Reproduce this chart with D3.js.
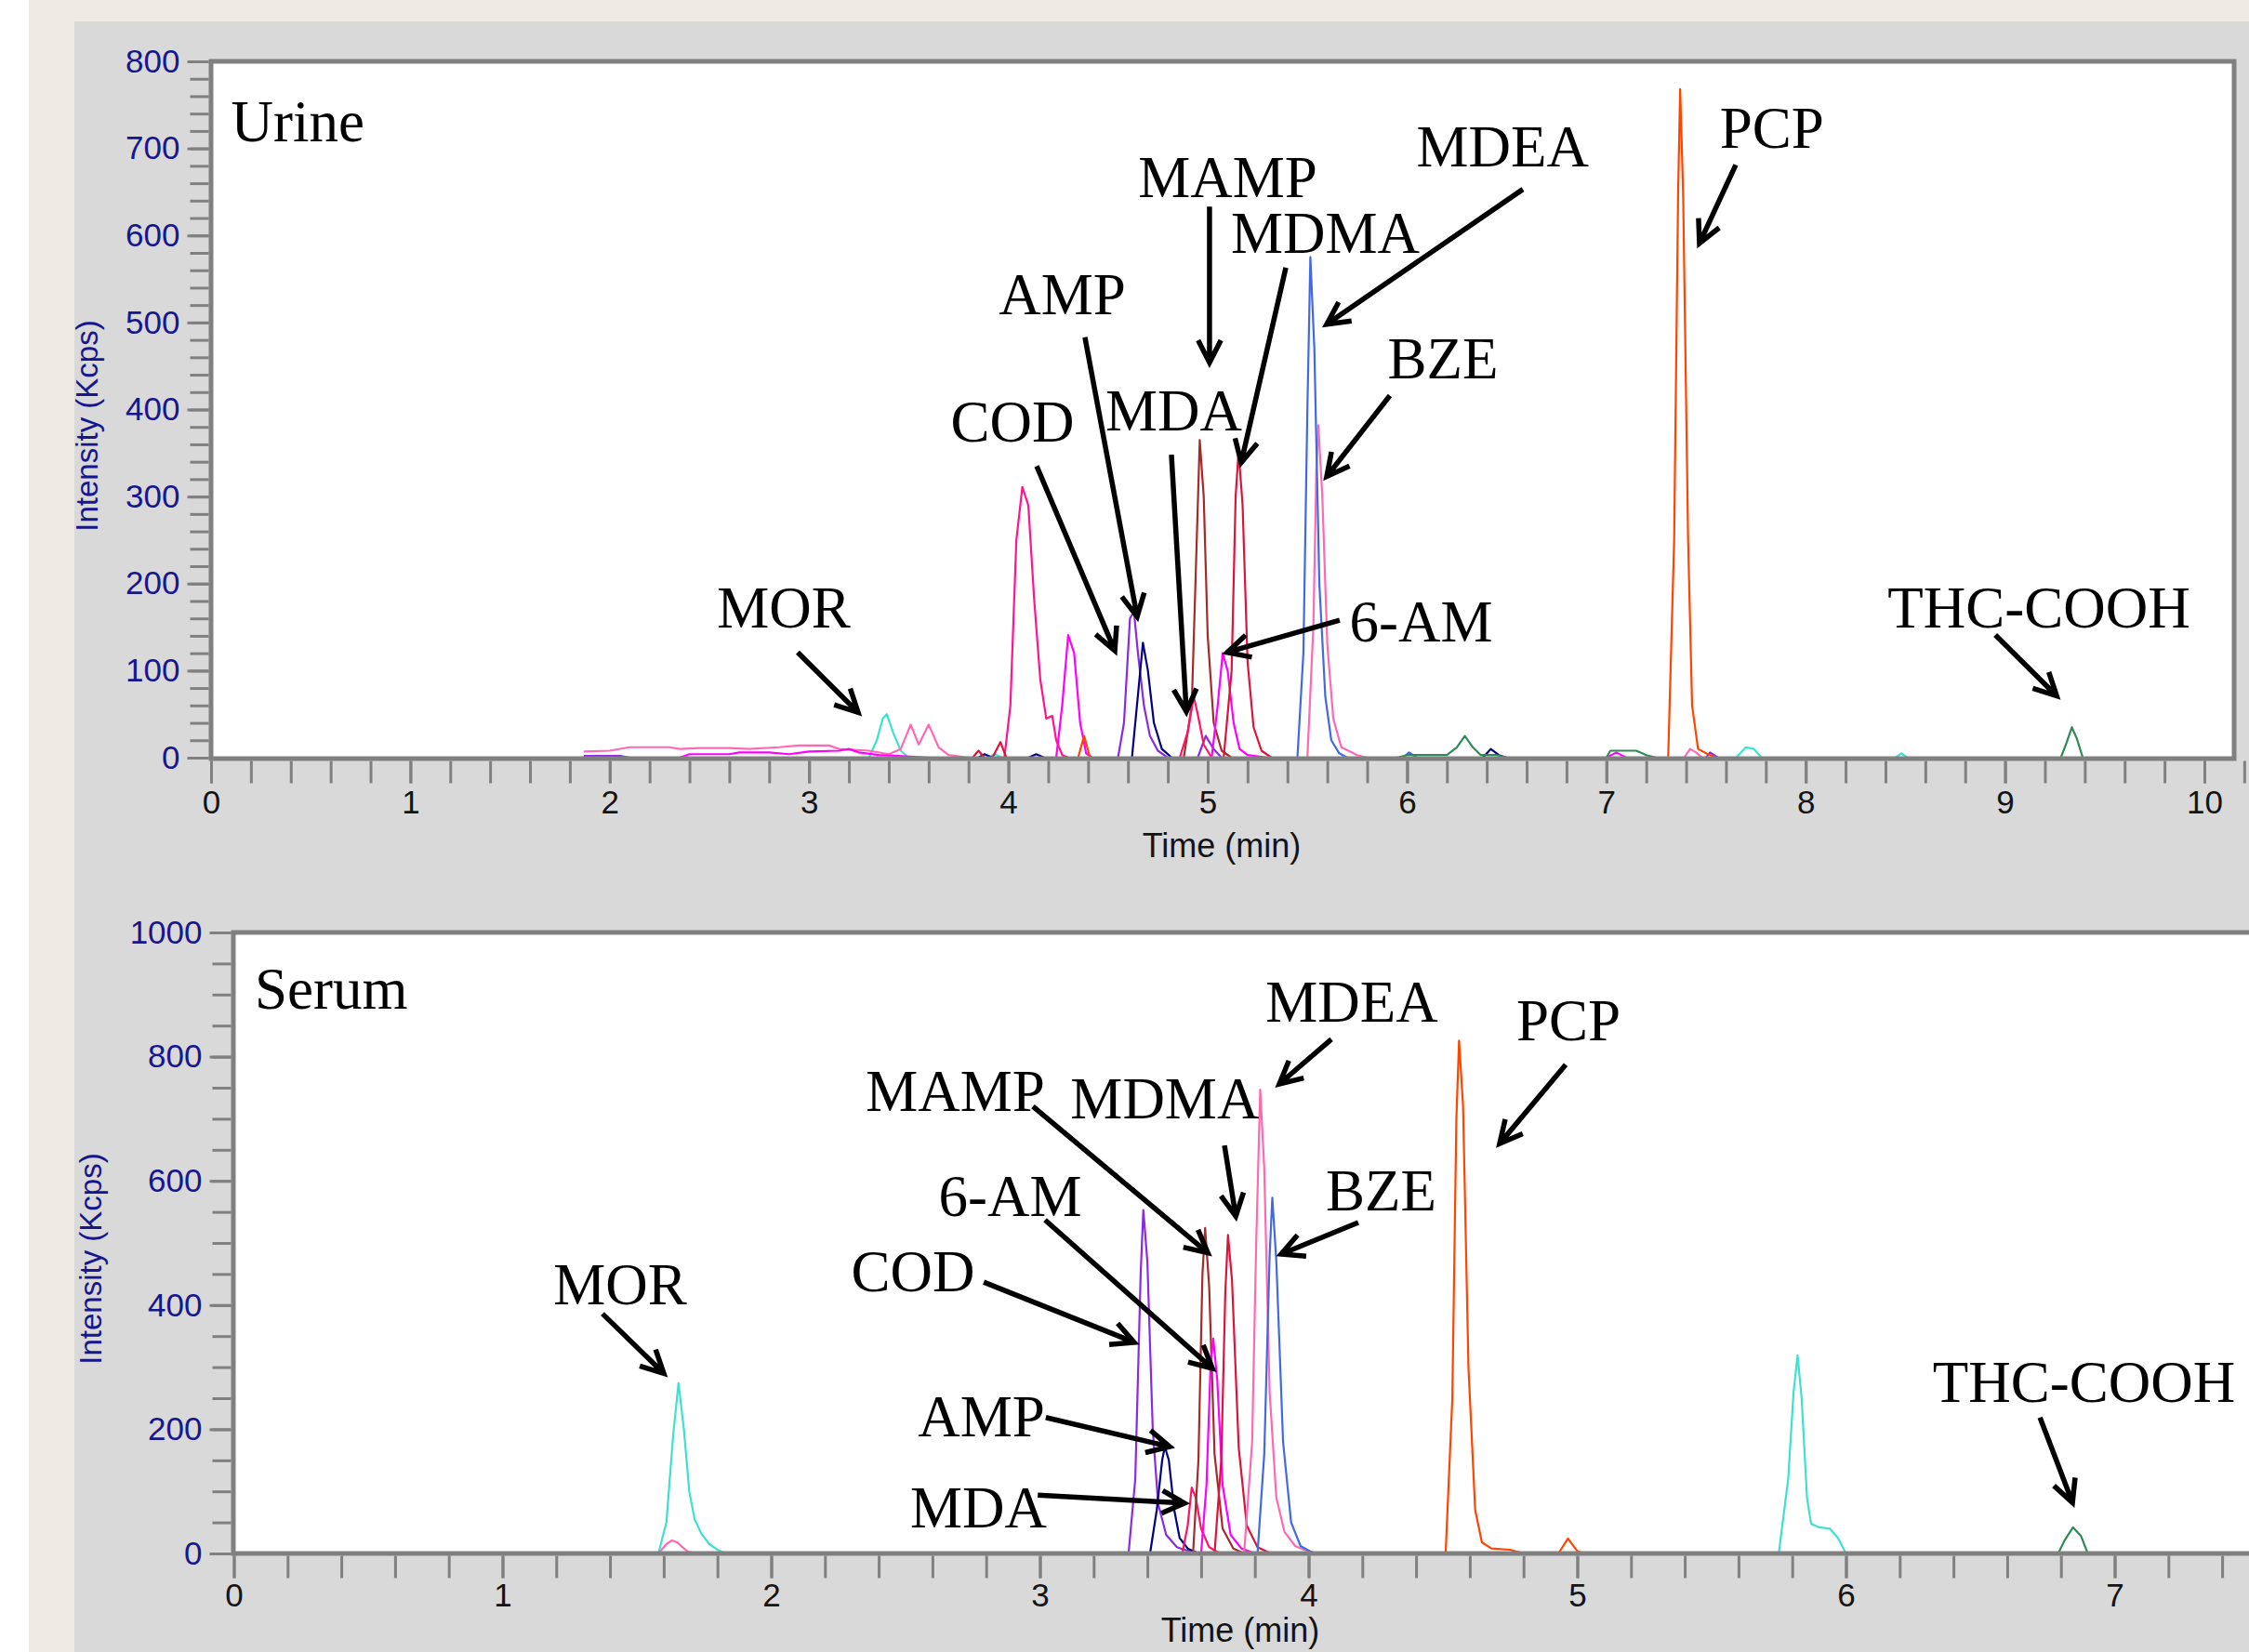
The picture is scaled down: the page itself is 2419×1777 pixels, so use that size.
<!DOCTYPE html>
<html>
<head>
<meta charset="utf-8">
<script src="https://cdn.jsdelivr.net/npm/d3@7"></script>
<style>
  body { margin: 0; background: #fff; }
</style>
</head>
<body>
<div id="chart"></div>
<script>
const width = 2419;
const height = 1777;

// ---- data: [time (min), intensity (Kcps)] ----
// Urine
const urineMOR = [[1.87,2],[2.05,2],[2.1,0],[3.30,0],[3.34,20],[3.37,45],[3.39,50],[3.42,30],[3.46,8],[3.5,0],[3.9,0],[3.93,4],[3.97,0],[7.65,0],[7.70,12],[7.74,10],[7.78,0],[8.45,0],[8.48,5],[8.51,0]];
const urinePink = [[1.87,7],[2.0,8],[2.1,12],[2.3,12],[2.35,10],[2.45,11],[2.6,11],[2.7,10],[2.85,12],[2.95,14],[3.1,14],[3.15,10],[3.3,8],[3.4,4],[3.46,10],[3.51,38],[3.55,15],[3.6,38],[3.65,12],[3.7,3],[3.8,0],[5.50,0],[5.53,150],[5.545,330],[5.555,382],[5.575,300],[5.60,130],[5.63,45],[5.67,12],[5.75,3],[5.8,0],[7.39,0],[7.42,10],[7.45,6],[7.48,0]];
const urineBig = [[3.98,0],[4.01,60],[4.04,250],[4.07,311],[4.10,290],[4.13,180],[4.16,90],[4.19,45],[4.22,48],[4.24,20],[4.27,3],[4.3,0]];
const urineMag = [[1.87,0],[2.35,0],[2.4,4],[2.6,4],[2.65,6],[2.8,6],[2.9,4],[3.0,7],[3.15,8],[3.2,10],[3.25,6],[3.35,3],[3.45,2],[3.6,0],[4.24,0],[4.27,60],[4.30,141],[4.33,120],[4.36,40],[4.39,5],[4.42,0],[7.0,0],[7.05,6],[7.1,0]];
const urineCOD = [[1.87,2],[2.05,2],[2.1,0],[4.55,0],[4.58,40],[4.61,160],[4.63,168],[4.65,120],[4.68,60],[4.71,25],[4.75,8],[4.8,0],[4.95,0],[4.99,25],[5.03,10],[5.07,0],[7.5,0],[7.52,6],[7.56,0]];
const urineAMP = [[3.85,0],[3.88,4],[3.92,0],[4.1,0],[4.14,4],[4.18,0],[4.62,0],[4.645,60],[4.675,132],[4.70,100],[4.73,40],[4.77,10],[4.82,0],[6.38,0],[6.42,10],[6.46,3],[6.5,0]];
const urineMAMP = [[4.88,0],[4.92,60],[4.945,250],[4.96,365],[4.98,300],[5.0,140],[5.03,40],[5.07,8],[5.12,0]];
const urineMDA = [[4.86,0],[4.90,30],[4.93,70],[4.95,50],[4.98,15],[5.02,0]];
const urine6AM = [[5.02,0],[5.05,60],[5.075,120],[5.10,100],[5.13,40],[5.16,10],[5.2,3],[5.3,0]];
const urineMDMA = [[3.82,0],[3.85,8],[3.88,0],[3.92,0],[3.96,18],[3.99,0],[5.08,0],[5.12,100],[5.14,300],[5.155,352],[5.175,290],[5.2,110],[5.23,35],[5.27,8],[5.32,0]];
const urineBlue = [[5.45,0],[5.48,120],[5.50,400],[5.515,575],[5.535,470],[5.56,200],[5.59,70],[5.62,20],[5.66,5],[5.7,0],[5.98,0],[6.01,6],[6.05,0]];
const urinePCP = [[4.35,0],[4.38,25],[4.41,0],[7.31,0],[7.34,250],[7.36,650],[7.37,768],[7.385,650],[7.41,250],[7.43,60],[7.46,10],[7.5,5],[7.55,0]];
const urineTHC = [[5.95,0],[6.0,3],[6.2,3],[6.25,12],[6.29,25],[6.33,12],[6.37,3],[6.45,3],[6.5,0],[7.0,0],[7.02,8],[7.15,8],[7.2,3],[7.25,0],[9.28,0],[9.31,18],[9.335,35],[9.36,22],[9.39,0]];

// Serum
const serumMOR = [[1.58,0],[1.61,50],[1.635,190],[1.655,274],[1.675,200],[1.695,100],[1.715,55],[1.74,32],[1.77,15],[1.80,6],[1.83,0],[5.75,0],[5.785,120],[5.805,260],[5.82,319],[5.835,250],[5.855,90],[5.87,48],[5.9,42],[5.94,40],[5.97,25],[6.0,0]];
const serumPink = [[1.58,0],[1.61,15],[1.63,21],[1.65,18],[1.67,10],[1.69,3],[1.72,0],[3.76,0],[3.79,180],[3.805,500],[3.82,747],[3.835,620],[3.855,260],[3.88,90],[3.91,35],[3.95,12],[4.0,3],[4.05,0]];
const serumCOD = [[3.33,0],[3.355,120],[3.375,450],[3.385,553],[3.40,470],[3.42,200],[3.44,80],[3.47,30],[3.51,10],[3.56,3],[3.6,0]];
const serumAMP = [[3.41,0],[3.435,70],[3.455,150],[3.465,172],[3.48,150],[3.50,70],[3.52,25],[3.55,8],[3.59,0]];
const serumMDA = [[3.53,0],[3.55,45],[3.565,106],[3.58,90],[3.60,40],[3.63,10],[3.67,0]];
const serumMAMP = [[3.57,0],[3.59,150],[3.605,450],[3.615,524],[3.63,430],[3.65,160],[3.68,40],[3.72,8],[3.76,0]];
const serum6AM = [[3.60,0],[3.62,110],[3.635,300],[3.645,346],[3.66,280],[3.68,110],[3.71,30],[3.75,8],[3.8,0]];
const serumMDMA = [[3.65,0],[3.675,150],[3.69,420],[3.70,513],[3.715,440],[3.74,170],[3.77,45],[3.81,10],[3.86,0]];
const serumBZE = [[3.81,0],[3.835,160],[3.855,480],[3.865,573],[3.88,470],[3.905,180],[3.935,50],[3.97,12],[4.02,0]];
const serumPCP = [[4.51,0],[4.535,250],[4.55,700],[4.56,826],[4.575,720],[4.595,300],[4.62,70],[4.645,18],[4.68,8],[4.75,6],[4.8,0],[4.93,0],[4.965,24],[5.0,4],[5.02,0]];
const serumTHC = [[6.79,0],[6.815,22],[6.845,42],[6.875,28],[6.90,0]];

// ticks
const urineYTicks = [0,100,200,300,400,500,600,700,800];
const serumYTicks = [0,200,400,600,800,1000];
const urineXTicks = [0,1,2,3,4,5,6,7,8,9,10];
const serumXTicks = [0,1,2,3,4,5,6,7];

// annotations: label position, arrow start, arrow tip (all in data units)
const urineNotes = [
  { text: 'MOR',      at: [2.873,150], from: [2.943,121], to: [3.246,52] },
  { text: 'COD',      at: [4.02,363],  from: [4.142,335], to: [4.534,123] },
  { text: 'AMP',      at: [4.27,510],  from: [4.384,483], to: [4.646,162] },
  { text: 'MAMP',     at: [5.10,644],  from: [5.009,633], to: [5.009,454] },
  { text: 'MDMA',     at: [5.59,580],  from: [5.392,563], to: [5.168,339] },
  { text: 'MDEA',     at: [6.48,679],  from: [6.581,653], to: [5.597,498] },
  { text: 'PCP',      at: [7.83,701],  from: [7.649,681], to: [7.467,591] },
  { text: 'MDA',      at: [4.83,376],  from: [4.818,348], to: [4.893,53] },
  { text: 'BZE',      at: [6.18,436],  from: [5.914,416], to: [5.597,323] },
  { text: '6-AM',     at: [6.07,134],  from: [5.662,158], to: [5.098,121] },
  { text: 'THC-COOH', at: [9.17,150],  from: [8.951,141], to: [9.259,71] }
];
const serumNotes = [
  { text: 'MOR',      at: [1.438,401], from: [1.372,386], to: [1.60,290] },
  { text: 'MAMP',     at: [2.685,713], from: [2.974,720], to: [3.625,484] },
  { text: 'MDMA',     at: [3.465,701], from: [3.687,657], to: [3.729,543] },
  { text: 'MDEA',     at: [4.161,857], from: [4.085,828], to: [3.891,756] },
  { text: 'PCP',      at: [4.967,826], from: [4.957,787], to: [4.711,660] },
  { text: '6-AM',     at: [2.889,543], from: [3.019,537], to: [3.642,298] },
  { text: 'COD',      at: [2.528,422], from: [2.791,437], to: [3.351,340] },
  { text: 'BZE',      at: [4.27,552],  from: [4.185,533], to: [3.898,482] },
  { text: 'AMP',      at: [2.782,189], from: [3.022,219], to: [3.483,172] },
  { text: 'MDA',      at: [2.772,42],  from: [2.992,94],  to: [3.538,81] },
  { text: 'THC-COOH', at: [6.886,244], from: [6.722,219], to: [6.843,82] }
];

const urineTraces = [
  { data: urineMOR,  color: '#40E0D0' },
  { data: urinePink, color: '#FF69B4' },
  { data: urineMag,  color: '#FF00FF' },
  { data: urineBig,  color: '#FF1493' },
  { data: urineCOD,  color: '#8A2BE2' },
  { data: urineAMP,  color: '#000080' },
  { data: urineMAMP, color: '#A52A2A' },
  { data: urineMDA,  color: '#FF1464' },
  { data: urine6AM,  color: '#FF00FF' },
  { data: urineMDMA, color: '#DC143C' },
  { data: urineBlue, color: '#4169E1' },
  { data: urinePCP,  color: '#FF4500' },
  { data: urineTHC,  color: '#2E8B57' }
];
const serumTraces = [
  { data: serumMOR,  color: '#40E0D0' },
  { data: serumCOD,  color: '#8A2BE2' },
  { data: serumAMP,  color: '#000080' },
  { data: serumMDA,  color: '#FF1464' },
  { data: serumMAMP, color: '#A52A2A' },
  { data: serum6AM,  color: '#FF00FF' },
  { data: serumMDMA, color: '#DC143C' },
  { data: serumPink, color: '#FF69B4' },
  { data: serumBZE,  color: '#4169E1' },
  { data: serumPCP,  color: '#FF4500' },
  { data: serumTHC,  color: '#2E8B57' }
];

const sansFont = '"Liberation Sans", Arial, sans-serif';
const serifFont = '"Liberation Serif", "Times New Roman", serif';

let svg = d3.select('#chart').append('svg')
    .attr('width', width)
    .attr('height', height);

// backgrounds
svg.append('rect').attr('width', width).attr('height', height).attr('fill', '#ffffff');
svg.append('rect').attr('x', 31).attr('width', width - 31).attr('height', height).attr('fill', '#EEEBE4');
svg.append('rect').attr('x', 80).attr('y', 23).attr('width', width - 80).attr('height', height - 23).attr('fill', '#D9D9D9');

function minorTicks(max, step) {
    return d3.range(0, max + step / 2, step);
}

function drawPanel(p) {
    let x = d3.scaleLinear().domain([0, p.xTicks[p.xTicks.length - 1]]).range(p.xRange);
    let y = d3.scaleLinear().domain([0, p.yTicks[p.yTicks.length - 1]]).range(p.yRange);

    let g = svg.append('g');

    // plot area
    g.append('rect')
        .attr('x', p.box[0]).attr('y', p.box[1])
        .attr('width', p.box[2] - p.box[0]).attr('height', p.box[3] - p.box[1])
        .attr('fill', '#ffffff');

    g.append('clipPath').attr('id', p.id + '-clip')
      .append('rect')
        .attr('x', p.box[0]).attr('y', p.box[1])
        .attr('width', p.box[2] - p.box[0]).attr('height', p.box[3] - p.box[1]);

    let line = d3.line()
        .x((d) => { return x(d[0]); })
        .y((d) => { return y(d[1]); });

    g.append('g')
        .attr('clip-path', `url(#${p.id}-clip)`)
        .selectAll('path').data(p.traces)
        .enter().append('path')
            .attr('d', (d) => { return line(d.data); })
            .attr('fill', 'none')
            .attr('stroke', (d) => { return d.color; })
            .attr('stroke-width', 2.2)
            .attr('stroke-linejoin', 'round');

    // frame
    g.append('rect')
        .attr('x', p.box[0]).attr('y', p.box[1])
        .attr('width', p.box[2] - p.box[0]).attr('height', p.box[3] - p.box[1])
        .attr('fill', 'none')
        .attr('stroke', '#808080')
        .attr('stroke-width', 5);

    // y axis
    let yMinor = g.append('g')
        .attr('transform', `translate(${p.box[0] - 2.5}, 0)`)
        .call(d3.axisLeft(y).tickValues(minorTicks(p.yTicks[p.yTicks.length - 1], p.yMinor)).tickSize(20).tickFormat(''));
    let yMajor = g.append('g')
        .attr('transform', `translate(${p.box[0] - 2.5}, 0)`)
        .call(d3.axisLeft(y).tickValues(p.yTicks).tickSize(23).tickPadding(8).tickFormat(d3.format('d')));

    // x axis
    let xAxis = g.append('g')
        .attr('transform', `translate(0, ${p.box[3] + 2.5})`)
        .call(d3.axisBottom(x).tickValues(minorTicks(p.xTicks[p.xTicks.length - 1] + 0.4, 0.2)).tickSize(24).tickFormat(''));
    let xLabels = g.append('g')
        .attr('transform', `translate(0, ${p.box[3] + 2.5})`)
        .call(d3.axisBottom(x).tickValues(p.xTicks).tickSize(24).tickPadding(p.xPad).tickFormat(d3.format('d')));

    [yMinor, yMajor, xAxis, xLabels].forEach((a) => {
        a.select('.domain').remove();
        a.selectAll('line').attr('stroke', '#808080').attr('stroke-width', 3);
    });
    yMajor.selectAll('text')
        .attr('font-family', sansFont).attr('font-size', '35px').attr('fill', '#16168f');
    xLabels.selectAll('text')
        .attr('font-family', sansFont).attr('font-size', '35px').attr('fill', '#141414');

    // axis titles
    g.append('text')
        .attr('transform', `translate(${p.yTitle[0]}, ${p.yTitle[1]}) rotate(-90)`)
        .attr('text-anchor', 'middle')
        .attr('font-family', sansFont).attr('font-size', '33px').attr('fill', '#16168f')
        .text('Intensity (Kcps)');
    g.append('text')
        .attr('x', p.xTitle[0]).attr('y', p.xTitle[1])
        .attr('text-anchor', 'middle')
        .attr('font-family', sansFont).attr('font-size', '36px').attr('fill', '#141414')
        .text('Time (min)');

    // sample name
    g.append('text')
        .attr('x', x(p.name.at[0])).attr('y', y(p.name.at[1]))
        .attr('font-family', serifFont).attr('font-size', '63px').attr('fill', '#000')
        .text(p.name.text);

    // compound labels and arrows
    p.notes.forEach((n) => {
        g.append('text')
            .attr('x', x(n.at[0])).attr('y', y(n.at[1]))
            .attr('text-anchor', 'middle')
            .attr('font-family', serifFont).attr('font-size', '63px').attr('fill', '#000')
            .text(n.text);

        let x1 = x(n.from[0]), y1 = y(n.from[1]);
        let x2 = x(n.to[0]), y2 = y(n.to[1]);
        let ang = Math.atan2(y1 - y2, x1 - x2);
        let head = 27, spread = 27 * Math.PI / 180;
        let w1 = [x2 + head * Math.cos(ang - spread), y2 + head * Math.sin(ang - spread)];
        let w2 = [x2 + head * Math.cos(ang + spread), y2 + head * Math.sin(ang + spread)];
        g.append('path')
            .attr('d', `M${x1},${y1}L${x2},${y2}M${w1[0]},${w1[1]}L${x2},${y2}L${w2[0]},${w2[1]}`)
            .attr('fill', 'none')
            .attr('stroke', '#000')
            .attr('stroke-width', 5.5)
            .attr('stroke-linejoin', 'miter');
    });
}

drawPanel({
    id: 'urine',
    traces: urineTraces,
    notes: urineNotes,
    name: { text: 'Urine', at: [0.10, 708] },
    xTicks: urineXTicks, yTicks: urineYTicks, yMinor: 20,
    xRange: [227, 2371], yRange: [815, 66],
    box: [227, 66, 2403, 816],
    xPad: 8,
    yTitle: [105, 458], xTitle: [1314, 922]
});

drawPanel({
    id: 'serum',
    traces: serumTraces,
    notes: serumNotes,
    name: { text: 'Serum', at: [0.078, 877] },
    xTicks: serumXTicks, yTicks: serumYTicks, yMinor: 50,
    xRange: [251.5, 2274.5], yRange: [1671, 1003],
    box: [251, 1003, 2440, 1671],
    xPad: 6,
    yTitle: [109, 1354], xTitle: [1334, 1766]
});
</script>
</body>
</html>
